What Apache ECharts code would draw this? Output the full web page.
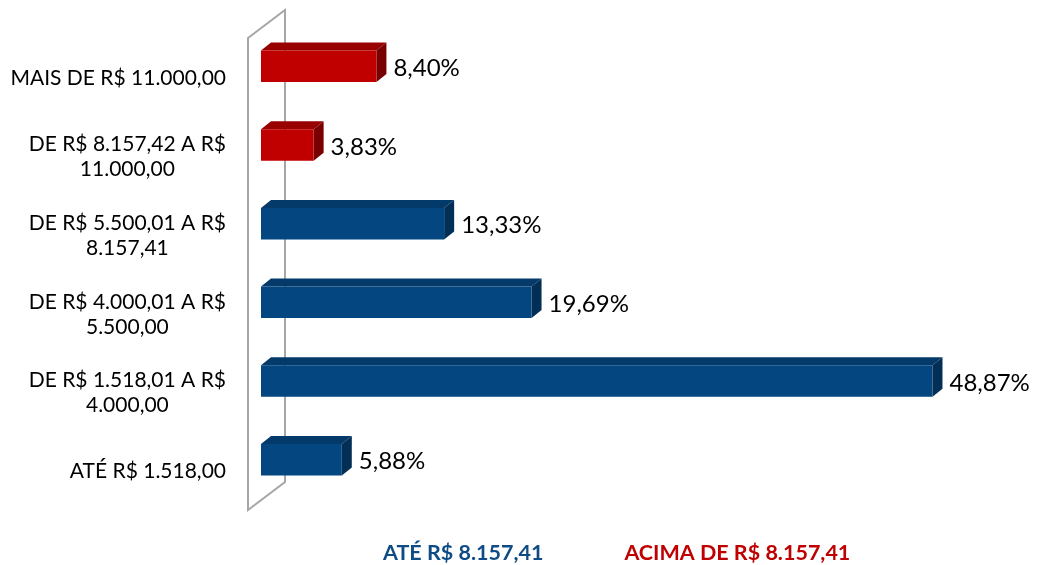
<!DOCTYPE html>
<html>
<head>
<meta charset="utf-8">
<script src="https://cdn.jsdelivr.net/npm/echarts@6/dist/echarts.min.js"></script>
<style>
    html, body { margin: 0; padding: 0; background: #fff; }
    #chart { width: 1037px; height: 565px; }
</style>
</head>
<body>
<div id="chart"></div>
<script>
// faixas de renda, de cima para baixo
var categories = [
    'MAIS DE R$ 11.000,00',
    'DE R$ 8.157,42 A R$\n11.000,00',
    'DE R$ 5.500,01 A R$\n8.157,41',
    'DE R$ 4.000,01 A R$\n5.500,00',
    'DE R$ 1.518,01 A R$\n4.000,00',
    'ATÉ R$ 1.518,00'
];
var values = [8.40, 3.83, 13.33, 19.69, 48.87, 5.88];
var groups = ['ACIMA DE R$ 8.157,41', 'ACIMA DE R$ 8.157,41', 'ATÉ R$ 8.157,41', 'ATÉ R$ 8.157,41', 'ATÉ R$ 8.157,41', 'ATÉ R$ 8.157,41'];
var seriesNames = ['ATÉ R$ 8.157,41', 'ACIMA DE R$ 8.157,41'];

var palette = {
    'ATÉ R$ 8.157,41': { front: '#04467f', top: '#043a69', side: '#032f57', legend: '#0f4c86' },
    'ACIMA DE R$ 8.157,41': { front: '#c00000', top: '#990000', side: '#780000', legend: '#c00000' }
};

var DX = 10, DY = 8;
var FONT = 'Lato, "Open Sans", sans-serif';

function fmt(v) {
    return v.toFixed(2).replace('.', ',') + '%';
}

function renderBar(params, api) {
    var val = api.value(0);
    var cat = api.value(1);
    var start = api.coord([0, cat]);
    var end = api.coord([val, cat]);
    var h = api.size([0, 1])[1] * 0.4;
    var c = palette[seriesNames[params.seriesIndex]];
    var x0 = start[0], x1 = end[0];
    var y0 = start[1] - h / 2, y1 = start[1] + h / 2;
    return {
        type: 'group',
        children: [
            {
                type: 'polygon',
                shape: { points: [[x0, y0], [x0 + DX, y0 - DY], [x1 + DX, y0 - DY], [x1, y0]] },
                style: { fill: c.top }
            },
            {
                type: 'polygon',
                shape: { points: [[x1, y0], [x1 + DX, y0 - DY], [x1 + DX, y1 - DY], [x1, y1]] },
                style: { fill: c.side }
            },
            {
                type: 'rect',
                shape: { x: x0, y: y0, width: x1 - x0, height: h },
                style: { fill: c.front }
            },
            {
                type: 'text',
                style: {
                    text: fmt(val),
                    x: x1 + DX + 7,
                    y: start[1] + 2,
                    verticalAlign: 'middle',
                    fill: '#000',
                    font: '24px ' + FONT
                }
            }
        ]
    };
}

function seriesData(name) {
    var out = [];
    for (var i = 0; i < values.length; i++) {
        if (groups[i] === name) out.push([values[i], i]);
    }
    return out;
}

var chartDom = document.getElementById('chart');
var myChart = echarts.init(chartDom);

var option = {
    animation: false,
    grid: {
        left: 261,
        right: 89,
        top: 27,
        bottom: 66
    },
    legend: {
        left: 373,
        top: 537,
        icon: 'none',
        itemWidth: 0,
        itemGap: 76,
        selectedMode: false,
        data: seriesNames.map(function (n) {
            return {
                name: n,
                textStyle: { color: palette[n].legend, fontSize: 21.5, fontWeight: 'bold', fontFamily: FONT }
            };
        })
    },
    // parede lateral do grafico 3D
    graphic: [{
        type: 'polygon',
        z: 0,
        shape: { points: [[248, 38], [285, 10], [285, 482], [248, 510]] },
        style: { fill: 'none', stroke: '#a6a6a6', lineWidth: 2 }
    }],
    xAxis: {
        type: 'value',
        min: 0,
        max: 50,
        show: false
    },
    yAxis: {
        type: 'category',
        inverse: true,
        data: categories,
        axisLine: { show: false },
        axisTick: { show: false },
        splitLine: { show: false },
        axisLabel: {
            margin: 35,
            padding: [24, 0, 0, 0],
            formatter: function (v) {
                return v.split('\n').map(function (l) { return '{c|' + l + '}'; }).join('\n');
            },
            rich: {
                c: { align: 'center', fontSize: 21, lineHeight: 25, color: '#000', fontFamily: FONT }
            }
        }
    },
    series: seriesNames.map(function (n) {
        return {
            name: n,
            type: 'custom',
            renderItem: renderBar,
            encode: { x: 0, y: 1 },
            data: seriesData(n)
        };
    })
};

option && myChart.setOption(option);
</script>
</body>
</html>
